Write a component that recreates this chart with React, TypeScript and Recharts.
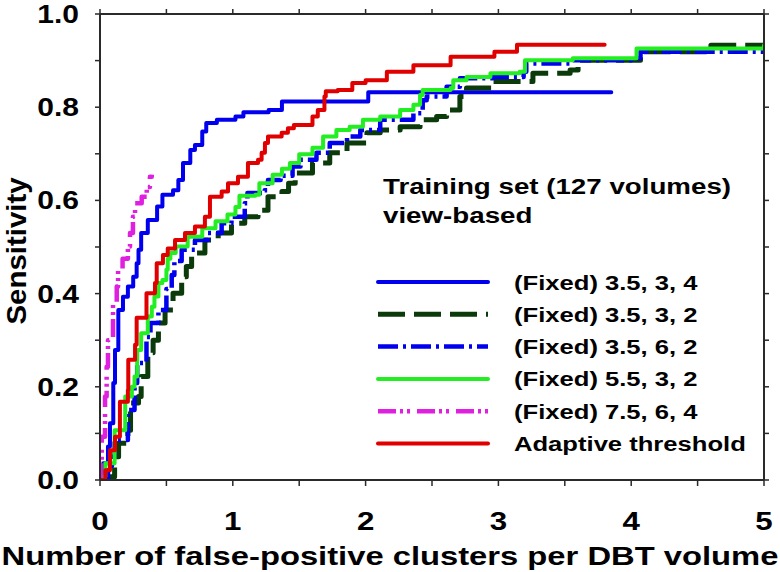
import React from 'react';
import { LineChart, Line, XAxis, YAxis, Legend } from 'recharts';

// ---- data (x = false-positive clusters per DBT volume, y = sensitivity) ----
const fixed_35_3_4: [number, number][] = [
  [0, 0], [0.025, 0.036], [0.06, 0.072], [0.075, 0.122], [0.1, 0.208], [0.113, 0.279],
  [0.138, 0.365], [0.173, 0.393], [0.21, 0.415], [0.25, 0.436], [0.276, 0.465], [0.29, 0.494],
  [0.31, 0.53], [0.36, 0.558], [0.43, 0.587], [0.47, 0.612], [0.55, 0.622], [0.59, 0.644],
  [0.625, 0.68], [0.68, 0.708], [0.715, 0.719], [0.77, 0.748], [0.8, 0.766], [0.88, 0.773],
  [1.02, 0.78], [1.08, 0.789], [1.27, 0.794], [1.37, 0.812], [2.01, 0.812], [2.02, 0.832],
  [3.85, 0.832],
];

const fixed_35_3_2: [number, number][] = [
  [0, 0], [0.02, 0.007], [0.11, 0.05], [0.14, 0.079], [0.21, 0.107], [0.23, 0.165],
  [0.29, 0.179], [0.31, 0.222], [0.36, 0.273], [0.4, 0.3], [0.44, 0.337], [0.49, 0.365],
  [0.55, 0.401], [0.615, 0.436], [0.65, 0.458], [0.69, 0.487], [0.79, 0.515], [0.89, 0.53],
  [0.99, 0.551], [1.09, 0.565], [1.19, 0.579], [1.265, 0.608], [1.37, 0.619], [1.42, 0.637],
  [1.47, 0.659], [1.6, 0.68], [1.73, 0.702], [1.86, 0.723], [2.01, 0.745], [2.11, 0.751],
  [2.26, 0.758], [2.41, 0.773], [2.535, 0.78], [2.61, 0.794], [2.71, 0.823], [2.76, 0.841],
  [2.96, 0.855], [3.26, 0.873], [3.54, 0.88], [3.6, 0.901], [4.07, 0.919], [4.57, 0.919],
  [4.6, 0.933], [5.0, 0.935],
];

const fixed_35_6_2: [number, number][] = [
  [0, 0], [0.06, 0.03], [0.09, 0.05], [0.11, 0.086], [0.21, 0.15], [0.26, 0.208],
  [0.28, 0.251], [0.35, 0.307], [0.38, 0.337], [0.44, 0.365], [0.5, 0.41], [0.54, 0.44],
  [0.56, 0.47], [0.615, 0.494], [0.715, 0.515], [0.813, 0.53], [0.916, 0.551], [0.99, 0.565],
  [1.09, 0.594], [1.11, 0.616], [1.19, 0.616], [1.24, 0.622], [1.265, 0.644], [1.36, 0.653],
  [1.45, 0.673], [1.51, 0.687], [1.63, 0.702], [1.73, 0.723], [1.86, 0.737], [1.96, 0.751],
  [2.11, 0.773], [2.26, 0.773], [2.36, 0.787], [2.43, 0.815], [2.46, 0.823], [2.61, 0.844],
  [2.71, 0.862], [2.96, 0.865], [3.19, 0.876], [3.21, 0.894], [3.56, 0.901], [4.0, 0.905],
  [4.07, 0.919], [5.0, 0.926],
];

const fixed_55_3_2: [number, number][] = [
  [0, 0.007], [0.04, 0.036], [0.11, 0.107], [0.19, 0.179], [0.24, 0.2], [0.26, 0.222],
  [0.28, 0.279], [0.31, 0.315], [0.36, 0.351], [0.39, 0.372], [0.41, 0.394], [0.44, 0.423],
  [0.47, 0.429], [0.5, 0.451], [0.51, 0.475], [0.53, 0.487], [0.57, 0.501], [0.66, 0.522],
  [0.77, 0.54], [0.87, 0.555], [0.96, 0.57], [1.02, 0.586], [1.05, 0.61], [1.17, 0.612],
  [1.2, 0.637], [1.3, 0.655], [1.37, 0.668], [1.43, 0.68], [1.5, 0.699], [1.6, 0.713],
  [1.68, 0.737], [1.78, 0.751], [1.88, 0.758], [1.98, 0.773], [2.11, 0.78], [2.21, 0.78],
  [2.26, 0.794], [2.36, 0.805], [2.41, 0.826], [2.43, 0.837], [2.64, 0.841], [2.66, 0.858],
  [2.76, 0.865], [2.94, 0.873], [3.16, 0.876], [3.2, 0.901], [3.56, 0.905], [4.01, 0.905],
  [4.04, 0.926], [5.0, 0.933],
];

const fixed_75_6_4: [number, number][] = [
  [0, 0], [0.005, 0.036], [0.013, 0.093], [0.038, 0.179], [0.05, 0.243], [0.06, 0.3],
  [0.098, 0.38], [0.126, 0.415], [0.136, 0.451], [0.17, 0.475], [0.21, 0.501], [0.226, 0.53],
  [0.248, 0.565], [0.264, 0.594], [0.314, 0.608], [0.352, 0.629], [0.376, 0.651], [0.39, 0.655],
];

const adaptive: [number, number][] = [
  [0, 0], [0.04, 0.021], [0.075, 0.064], [0.113, 0.093], [0.15, 0.136], [0.15, 0.168],
  [0.2, 0.168], [0.21, 0.193], [0.213, 0.258], [0.264, 0.29], [0.276, 0.348], [0.35, 0.401],
  [0.414, 0.423], [0.427, 0.465], [0.474, 0.483], [0.51, 0.497], [0.565, 0.515], [0.64, 0.53],
  [0.715, 0.544], [0.79, 0.565], [0.828, 0.608], [0.916, 0.619], [0.964, 0.637], [1.039, 0.651],
  [1.114, 0.68], [1.19, 0.687], [1.217, 0.702], [1.242, 0.723], [1.265, 0.737], [1.368, 0.745],
  [1.415, 0.755], [1.46, 0.762], [1.6, 0.78], [1.64, 0.794], [1.69, 0.823], [1.7, 0.834],
  [1.79, 0.837], [1.9, 0.852], [2.0, 0.858], [2.16, 0.876], [2.36, 0.89], [2.64, 0.908],
  [2.97, 0.919], [3.14, 0.934], [3.8, 0.934],
];

const xTicks = [0, 0.5, 1, 1.5, 2, 2.5, 3, 3.5, 4, 4.5, 5];
const yTicks = [0, 0.1, 0.2, 0.3, 0.4, 0.5, 0.6, 0.7, 0.8, 0.9, 1.0];

const seriesNames = [
  '(Fixed) 3.5, 3, 4',
  '(Fixed) 3.5, 3, 2',
  '(Fixed) 3.5, 6, 2',
  '(Fixed) 5.5, 3, 2',
  '(Fixed) 7.5, 6, 4',
  'Adaptive threshold',
];
const annotationLines = ['Training set (127 volumes)', 'view-based'];
const xTitle = 'Number of false-positive clusters per DBT volume';
const yTitle = 'Sensitivity';

// ---- styles ----
const FONT = '"Liberation Sans", Arial, Helvetica, sans-serif';
const AXIS = '#2a2a2a';
const styles = [
  { color: '#0000EE', dash: undefined as string | undefined, width: 4, cap: 'round' },
  { color: '#0B3A0B', dash: '27 9', width: 5, cap: 'butt' },
  { color: '#0000EE', dash: '20 5 3 5', width: 4.5, cap: 'butt' },
  { color: '#22EE22', dash: undefined, width: 4, cap: 'round' },
  { color: '#E020E0', dash: '18 4 3 4 3 7', width: 4.5, cap: 'butt' },
  { color: '#E00000', dash: undefined, width: 4, cap: 'round' },
];
const allSeries = [fixed_35_3_4, fixed_35_3_2, fixed_35_6_2, fixed_55_3_2, fixed_75_6_4, adaptive];

const toRows = (pts: [number, number][]) => pts.map(([x, y]) => ({ x, y }));

function SText(props: {
  x: number; y: number; size: number; sx?: number; anchor?: 'start' | 'middle' | 'end';
  rotate?: number; children: React.ReactNode;
}) {
  const { x, y, size, sx = 1, anchor = 'start', rotate = 0, children } = props;
  return (
    <text
      transform={`translate(${x},${y}) rotate(${rotate}) scale(${sx},1)`}
      fontSize={size}
      fontWeight="bold"
      fontFamily={FONT}
      textAnchor={anchor}
      fill="#000"
    >
      {children}
    </text>
  );
}

const XTick = (p: any) => {
  const v = p.payload.value;
  if (Math.abs(v - Math.round(v)) > 1e-6) return <g />;
  return (
    <SText x={p.x} y={530} size={25} sx={1.25} anchor="middle">
      {String(Math.round(v))}
    </SText>
  );
};

const YTick = (p: any) => {
  const v = p.payload.value;
  const k = Math.round(v * 10);
  if (k % 2 !== 0) return <g />;
  return (
    <SText x={79} y={p.y + 9} size={25} sx={1.2} anchor="end">
      {v.toFixed(1)}
    </SText>
  );
};

const Empty = () => <g />;

const Overlay = () => (
  <div style={{ position: 'relative', width: 0, height: 0 }}>
    <svg
      width={780}
      height={572}
      style={{ position: 'absolute', left: 0, top: 0, overflow: 'visible', pointerEvents: 'none' }}
    >
      <SText x={390} y={565} size={25} sx={1.31} anchor="middle">{xTitle}</SText>
      <SText x={26} y={251} size={27} sx={1.09} anchor="middle" rotate={-90}>{yTitle}</SText>
      <SText x={383} y={194} size={22} sx={1.26}>{annotationLines[0]}</SText>
      <SText x={383} y={223} size={22} sx={1.26}>{annotationLines[1]}</SText>
      {seriesNames.map((name, i) => {
        const cy = 282 + i * 32.3;
        const s = styles[i];
        return (
          <g key={name}>
            <line
              x1={378}
              x2={488}
              y1={cy}
              y2={cy}
              stroke={s.color}
              strokeWidth={s.width}
              strokeDasharray={s.dash}
              strokeLinecap={s.cap as any}
            />
            <SText x={514} y={cy + 7.5} size={20} sx={1.28}>{name}</SText>
          </g>
        );
      })}
    </svg>
  </div>
);

export default function App() {
  return (
    <div style={{ position: 'absolute', left: 0, top: 0, width: 780, height: 572, background: '#fff' }}>
      <LineChart width={780} height={572} margin={{ top: 0, right: 0, bottom: 0, left: 0 }}>
        <XAxis
          xAxisId="b"
          type="number"
          dataKey="x"
          domain={[0, 5]}
          ticks={xTicks}
          allowDataOverflow
          height={92}
          tickSize={6}
          stroke={AXIS}
          axisLine={{ stroke: AXIS, strokeWidth: 2 }}
          tickLine={{ stroke: AXIS, strokeWidth: 1.5 }}
          tick={XTick}
          interval={0}
        />
        <XAxis
          xAxisId="t"
          orientation="top"
          type="number"
          dataKey="x"
          domain={[0, 5]}
          ticks={xTicks}
          allowDataOverflow
          height={14}
          tickSize={5}
          axisLine={{ stroke: AXIS, strokeWidth: 2 }}
          tickLine={{ stroke: AXIS, strokeWidth: 1.5 }}
          tick={Empty}
          interval={0}
        />
        <YAxis
          yAxisId="l"
          type="number"
          domain={[0, 1]}
          ticks={yTicks}
          allowDataOverflow
          width={100}
          tickSize={5}
          axisLine={{ stroke: AXIS, strokeWidth: 2 }}
          tickLine={{ stroke: AXIS, strokeWidth: 1.5 }}
          tick={YTick}
          interval={0}
        />
        <YAxis
          yAxisId="r"
          orientation="right"
          type="number"
          domain={[0, 1]}
          ticks={yTicks}
          allowDataOverflow
          width={16}
          tickSize={5}
          axisLine={{ stroke: AXIS, strokeWidth: 2 }}
          tickLine={{ stroke: AXIS, strokeWidth: 1.5 }}
          tick={Empty}
          interval={0}
        />
        {allSeries.map((pts, i) => (
          <Line
            key={seriesNames[i]}
            name={seriesNames[i]}
            xAxisId="b"
            yAxisId="l"
            data={toRows(pts)}
            dataKey="y"
            type="stepAfter"
            stroke={styles[i].color}
            strokeWidth={styles[i].width}
            strokeDasharray={styles[i].dash}
            strokeLinecap={styles[i].cap as any}
            strokeLinejoin="round"
            dot={false}
            activeDot={false}
            isAnimationActive={false}
          />
        ))}
        <Legend
          verticalAlign="top"
          align="left"
          wrapperStyle={{ position: 'absolute', left: 0, top: 0, width: 0, height: 0, overflow: 'visible' }}
          content={() => <Overlay />}
        />
      </LineChart>
    </div>
  );
}
